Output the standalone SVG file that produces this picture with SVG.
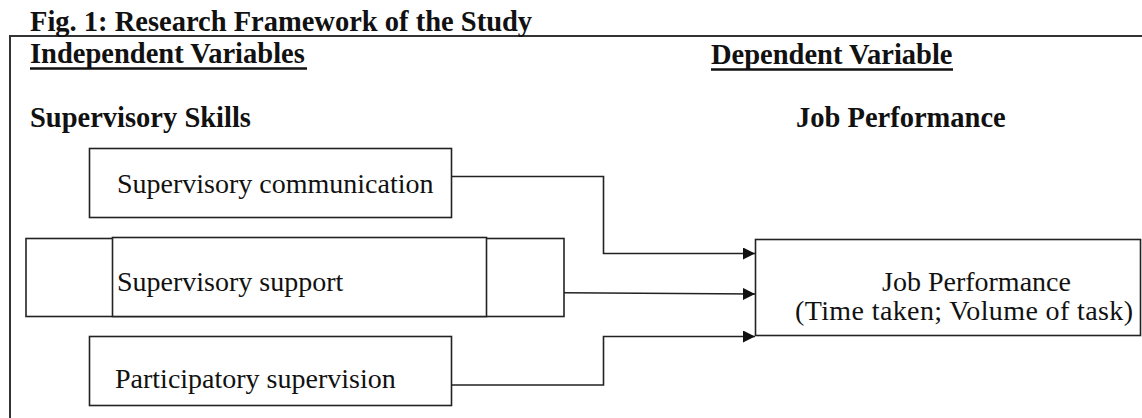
<svg xmlns="http://www.w3.org/2000/svg" width="1142" height="418" viewBox="0 0 1142 418">
<style>
.t{font-family:"Liberation Serif","Times New Roman",serif;fill:#111;font-size:28px}
.b{font-weight:bold;font-size:28.5px}
.box{fill:#fff;stroke:#222;stroke-width:1.6}
.ln{fill:none;stroke:#222;stroke-width:1.6}
.ul{stroke:#111;stroke-width:2.4}
.fr{fill:none;stroke:#333;stroke-width:2}
</style>
<defs>
<marker id="ah" markerWidth="12" markerHeight="12" refX="12" refY="6" orient="auto" markerUnits="userSpaceOnUse">
<path d="M0,0 L12,6 L0,12 Z" fill="#111"/>
</marker>
</defs>
<rect width="1142" height="418" fill="#fff"/>
<g id="frame">
<path class="fr" d="M10,418 V36 H1142"/>
</g>
<g id="headings">
<text class="t b" x="30" y="30.5">Fig. 1: Research Framework of the Study</text>
<text class="t b" x="30" y="63">Independent Variables</text>
<line class="ul" x1="30" y1="68.5" x2="307" y2="68.5"/>
<text class="t b" x="711" y="63.5">Dependent Variable</text>
<line class="ul" x1="711" y1="69.5" x2="953" y2="69.5"/>
<text class="t b" x="30" y="127">Supervisory Skills</text>
<text class="t b" x="796" y="127">Job Performance</text>
</g>
<g id="n1">
<rect class="box" x="89.5" y="148.5" width="362" height="69"/>
<text class="t" x="117" y="193">Supervisory communication</text>
</g>
<g id="n2">
<rect class="box" x="26" y="238.5" width="538" height="78"/>
<rect class="box" x="112.5" y="237.5" width="374" height="79"/>
<text class="t" x="117" y="290.5">Supervisory support</text>
</g>
<g id="n3">
<rect class="box" x="89.5" y="336.5" width="362" height="69"/>
<text class="t" x="115" y="388">Participatory supervision</text>
</g>
<g id="n4">
<rect class="box" x="755.5" y="239.5" width="385" height="96"/>
<text class="t" x="882" y="290.5">Job Performance</text>
<text class="t" x="795" y="320" textLength="338" lengthAdjust="spacing">(Time taken; Volume of task)</text>
</g>
<g id="connectors">
<path class="ln" d="M451.5,176.5 H603.5 V253.5 H755" marker-end="url(#ah)"/>
<path class="ln" d="M564,292.7 L755,294" marker-end="url(#ah)"/>
<path class="ln" d="M451.5,385 H603.5 V336.5 H755" marker-end="url(#ah)"/>
</g>
</svg>
